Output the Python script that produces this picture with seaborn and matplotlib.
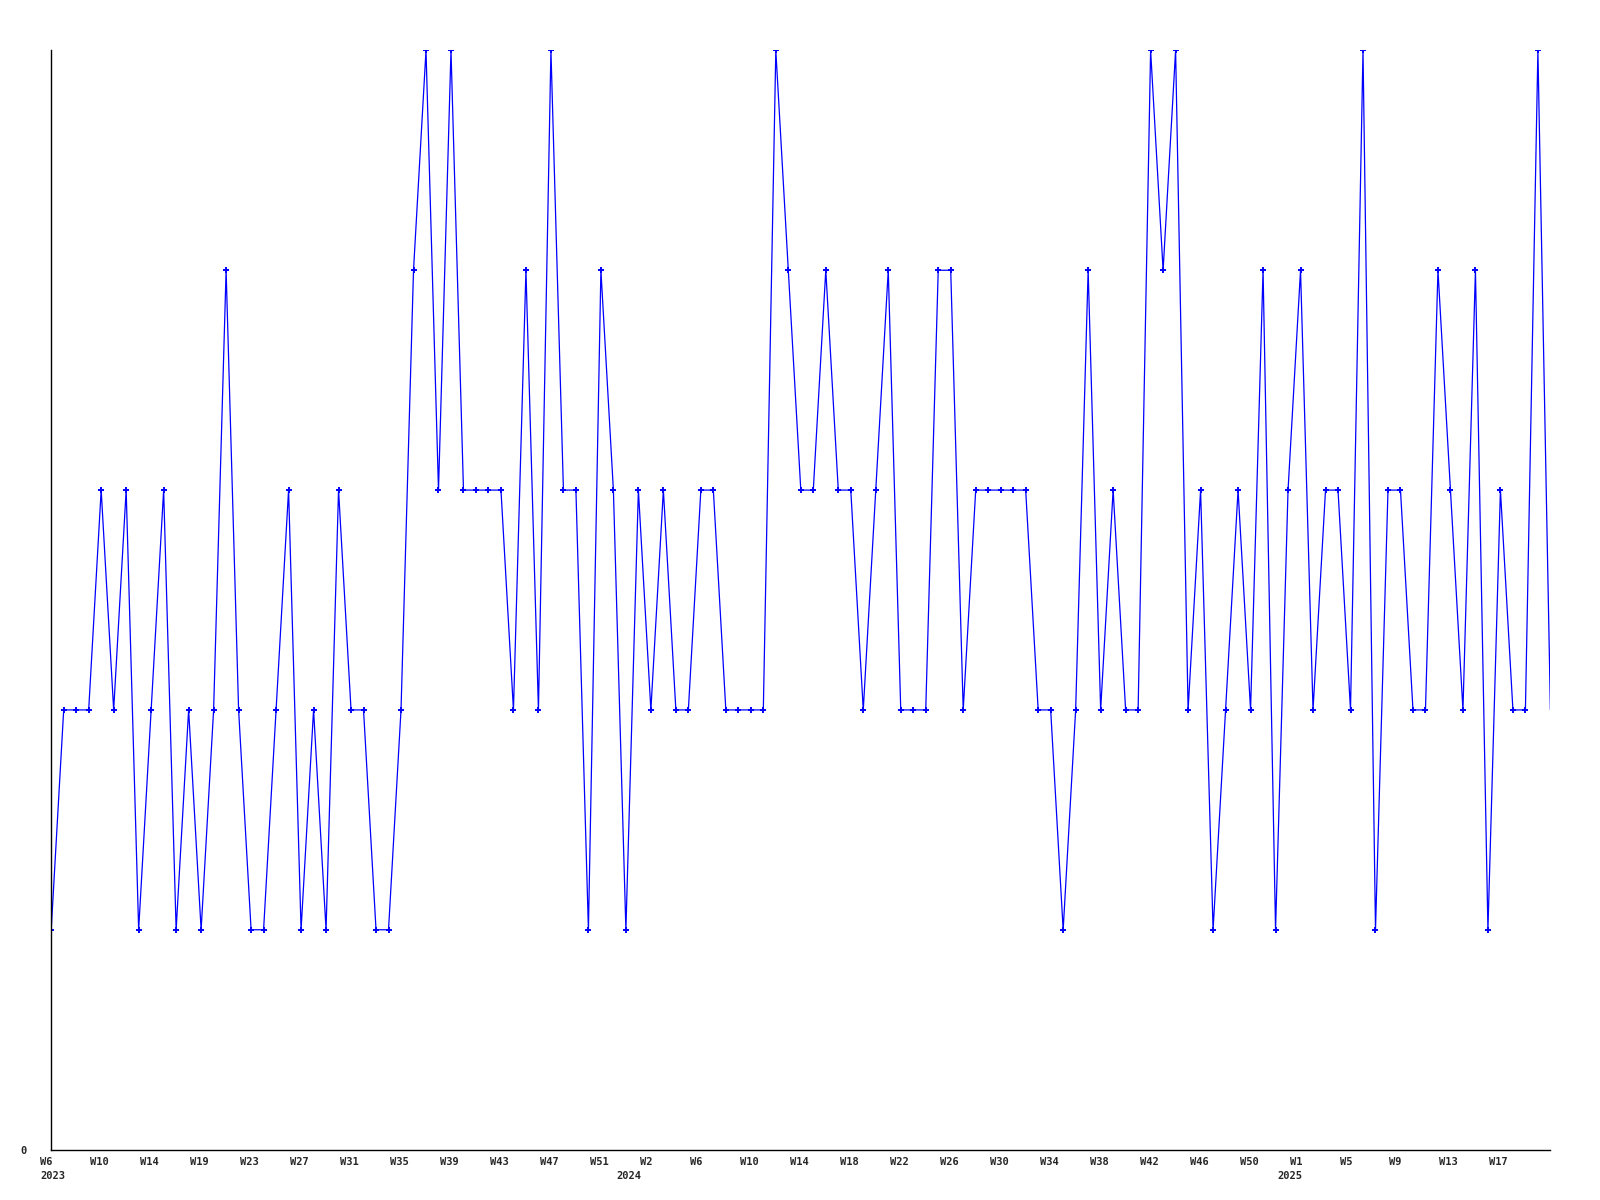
#Import the libraries
import pandas as pd
from matplotlib import pyplot as plt
from matplotlib import transforms
import seaborn as sb

# weekly values, 2023 W6 .. 2025 W22
values = [1, 2, 2, 2, 3, 2, 3, 1, 2, 3, 1, 2, 1, 2, 4, 2, 1, 1, 2, 3,
          1, 2, 1, 3, 2, 2, 1, 1, 2, 4, 5, 3, 5, 3, 3, 3, 3, 2, 4, 2,
          5, 3, 3, 1, 4, 3, 1, 3, 2, 3, 2, 2, 3, 3, 2, 2, 2, 2, 5, 4,
          3, 3, 4, 3, 3, 2, 3, 4, 2, 2, 2, 4, 4, 2, 3, 3, 3, 3, 3, 2,
          2, 1, 2, 4, 2, 3, 2, 2, 5, 4, 5, 2, 3, 1, 2, 3, 2, 4, 1, 3,
          4, 2, 3, 3, 2, 5, 1, 3, 3, 2, 2, 4, 3, 2, 4, 1, 3, 2, 2, 5, 2]

# tick labels every 4 weeks
week_labels = ['W6', 'W10', 'W14', 'W19', 'W23', 'W27', 'W31', 'W35', 'W39', 'W43',
               'W47', 'W51', 'W2', 'W6', 'W10', 'W14', 'W18', 'W22', 'W26', 'W30',
               'W34', 'W38', 'W42', 'W46', 'W50', 'W1', 'W5', 'W9', 'W13', 'W17']
years = ['2023', '2024', '2025']
year_pos = [0, 46.1, 99.0]   # week index where each year label is anchored

data_frame = pd.DataFrame({'week': range(len(values)), 'value': values})

sb.set_style('white')
plt.rcParams['font.family'] = ['DejaVu Sans Mono']

fig = plt.figure(figsize=(16, 12), dpi=100)
ax = fig.add_axes([0.032, 0.042, 0.937, 0.916])

sb.lineplot(data=data_frame, x='week', y='value', ax=ax, color='#0000ff',
            linewidth=0.9, marker='+', markersize=4, markeredgewidth=1.4,
            markeredgecolor='#0000ff', markevery=list(range(len(values) - 1)))

# x labels start about 11px left of each tick
ax.set_xticks(list(range(0, len(values), 4))[:len(week_labels)])
ax.set_xticklabels([])
lab_trans = transforms.offset_copy(ax.get_xaxis_transform(), fig=fig,
                                   x=-11, y=0, units='dots')
for pos, lab in zip(ax.get_xticks(), week_labels):
    ax.text(pos, -0.011, lab, transform=lab_trans, fontsize=7.5,
            fontweight='bold', ha='left', va='center')

# year under the first week of each year
for yr, pos in zip(years, year_pos):
    ax.text(pos, -0.024, yr, transform=lab_trans, fontsize=7.5,
            fontweight='bold', ha='left', va='center')

ax.set_yticks([0])
ax.set_yticklabels(['0'], fontsize=7.5, fontweight='bold')
ax.tick_params(axis='both', length=0)
ax.tick_params(axis='y', pad=17.5)

ax.set_xlim(0, len(values) - 1)
ax.set_ylim(0, 5)
ax.set_xlabel('')
ax.set_ylabel('')
for side in ['top', 'right']:
    ax.spines[side].set_visible(False)
for side in ['left', 'bottom']:
    ax.spines[side].set_color('black')
    ax.spines[side].set_linewidth(1)

fig.savefig('out.png', dpi=100)
